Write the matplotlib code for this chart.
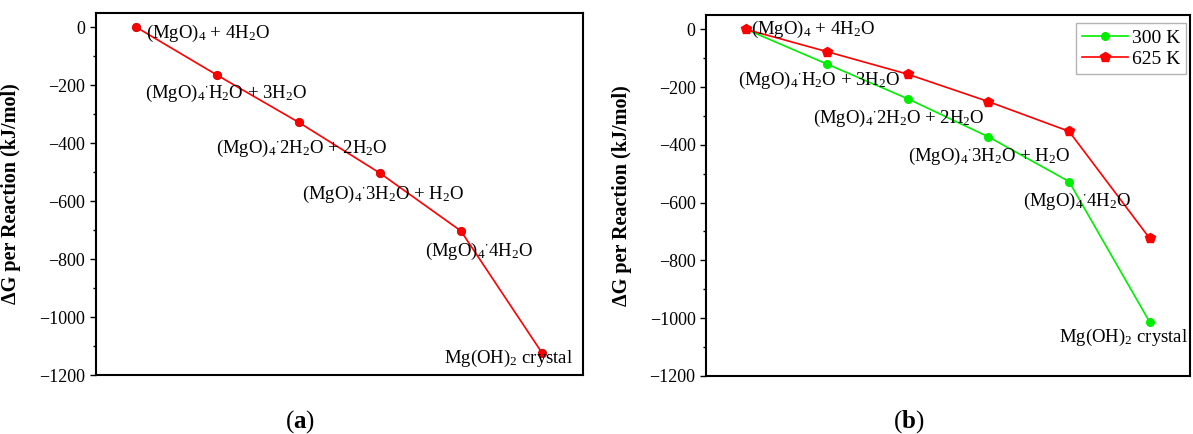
import matplotlib
matplotlib.use("Agg")
import matplotlib.pyplot as plt
from matplotlib.ticker import MultipleLocator, NullLocator

plt.rcParams['font.family'] = ['Liberation Serif', 'DejaVu Serif']
plt.rcParams['mathtext.fontset'] = 'custom'
plt.rcParams['mathtext.rm'] = 'Liberation Serif'
plt.rcParams['mathtext.it'] = 'Liberation Serif:italic'
plt.rcParams['mathtext.bf'] = 'Liberation Serif:bold'

# ---- data ----
steps = [1, 2, 3, 4, 5, 6]
species = [
    r"(MgO)$_4$ + 4H$_2$O",
    r"(MgO)$_4$$^{\bullet}$H$_2$O + 3H$_2$O",
    r"(MgO)$_4$$^{\bullet}$2H$_2$O + 2H$_2$O",
    r"(MgO)$_4$$^{\bullet}$3H$_2$O + H$_2$O",
    r"(MgO)$_4$$^{\bullet}$4H$_2$O",
    r"Mg(OH)$_2$ crystal",
]
dG_a = [0, -166, -328, -503, -703, -1124]
dG_300K = [0, -120, -240, -372, -527, -1014]
dG_625K = [0, -77, -155, -250, -353, -724]
series_labels = ["300 K", "625 K"]
yticks = [0, -200, -400, -600, -800, -1000, -1200]
ylabel = "ΔG per Reaction (kJ/mol)"
panel_letters = ["a", "b"]

# ---- label placements (data coords, left edge / vertical center) ----
lab_pos_a = [(1.12, -22), (1.11, -227), (1.98, -417), (3.04, -577), (4.56, -772), (4.79, -1143)]
lab_pos_b = [(1.06, 0), (0.90, -175), (1.83, -307), (3.01, -439), (4.43, -597), (4.88, -1069)]

fig = plt.figure(figsize=(11.93, 4.34), dpi=100)
ax_a = fig.add_axes([0.0802, 0.1359, 0.4082, 0.8348])
ax_b = fig.add_axes([0.5918, 0.1343, 0.4057, 0.8311])

RED = '#ff0000'
GREEN = '#00ee00'
FS = 13.5

def style(ax):
    ax.set_xlim(0.5, 6.5)
    ax.set_ylim(-1200, 50)
    ax.set_yticks(yticks)
    ax.yaxis.set_minor_locator(MultipleLocator(100))
    ax.xaxis.set_major_locator(NullLocator())
    ax.xaxis.set_minor_locator(NullLocator())
    ax.tick_params(axis='y', which='major', direction='out', length=4.5, width=1.0,
                   labelsize=13, pad=3)
    ax.tick_params(axis='y', which='minor', direction='out', length=2.5, width=1.0)
    for s in ax.spines.values():
        s.set_linewidth(1.5)
    ax.set_ylabel(ylabel, fontsize=14.5, fontweight='bold')
    ax.yaxis.set_label_coords(-0.153, 0.5)

# panel a
ax_a.plot(steps, dG_a, color=RED, lw=1.2, marker='o', ms=6,
          markerfacecolor=RED, markeredgecolor='#cc0000', markeredgewidth=0.6)
for txt, (x, y) in zip(species, lab_pos_a):
    ax_a.text(x, y, txt, fontsize=FS, ha='left', va='center')
style(ax_a)

# panel b
ax_b.plot(steps, dG_300K, color=GREEN, lw=1.2, marker='o', ms=5.5,
          markerfacecolor=GREEN, markeredgecolor=GREEN, label=series_labels[0])
ax_b.plot(steps, dG_625K, color=RED, lw=1.2, marker='p', ms=7,
          markerfacecolor=RED, markeredgecolor=RED, label=series_labels[1])
for txt, (x, y) in zip(species, lab_pos_b):
    ax_b.text(x, y, txt, fontsize=FS, ha='left', va='center')
style(ax_b)
leg = ax_b.legend(loc='upper right', bbox_to_anchor=(0.992, 0.977), borderaxespad=0,
                  fontsize=14, frameon=True, fancybox=False, handlelength=2.4,
                  handletextpad=0.2, borderpad=0.3, labelspacing=0.2)
leg.get_frame().set_edgecolor('#a0a0a0')
leg.get_frame().set_linewidth(1.0)

# panel letters
for letter, xf in zip(panel_letters, [0.2515, 0.762]):
    fig.text(xf, 0.028, "(" + r"$\mathbf{" + letter + "}$" + ")", fontsize=18,
             ha='center', va='center')

fig.savefig("out.png", dpi=100)
